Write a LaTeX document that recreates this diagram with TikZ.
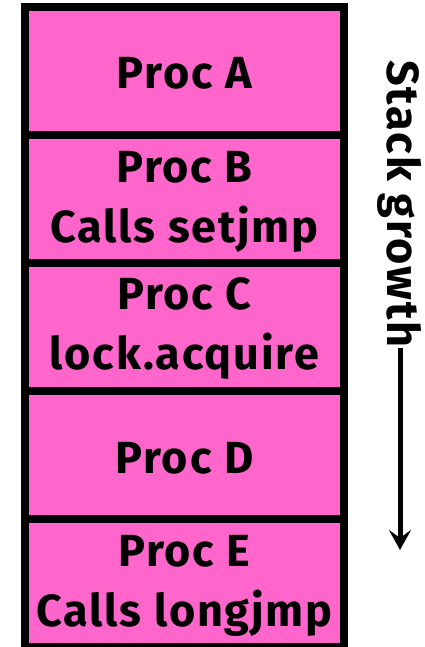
\documentclass[tikz,border=0pt]{standalone}
\usepackage{fontspec}
\setmainfont{Fira Sans}[LetterSpace=4]
\usetikzlibrary{arrows.meta}
\definecolor{framepink}{HTML}{FF66CC}
\begin{document}
\begin{tikzpicture}[x=1pt,y=-1pt,
  frame/.style={draw=black,fill=framepink,line width=8pt},
  lbl/.style={font=\bfseries\fontsize{45}{60}\selectfont,align=center,inner sep=0pt}]
\useasboundingbox (0,0) rectangle (425,647);
% stack frames, top to bottom
\draw[frame] (25,7) rectangle (344,135);
\draw[frame] (25,135) rectangle (344,263);
\draw[frame] (25,263) rectangle (344,391);
\draw[frame] (25,391) rectangle (344,519);
\draw[frame] (25,519) rectangle (344,647);
\node[lbl] (pa) at (184.5,73) {Proc A};
\node[lbl] (pb) at (184.5,202) {Proc B\\Calls setjmp};
\node[lbl] (pc) at (184.5,329) {Proc C\\lock.acquire};
\node[lbl] (pd) at (184.5,458) {Proc D};
\node[lbl] (pe) at (184.5,586) {Proc E\\Calls longjmp};
% growth direction
\node[lbl,rotate=-90,anchor=west] (sg) at (400,60) {Stack growth};
\coordinate (tip) at (400,550);
\draw[line width=5pt,-{Stealth[length=20pt,width=22pt,inset=8pt]}] (sg.east) -- (tip);
\end{tikzpicture}
\end{document}
